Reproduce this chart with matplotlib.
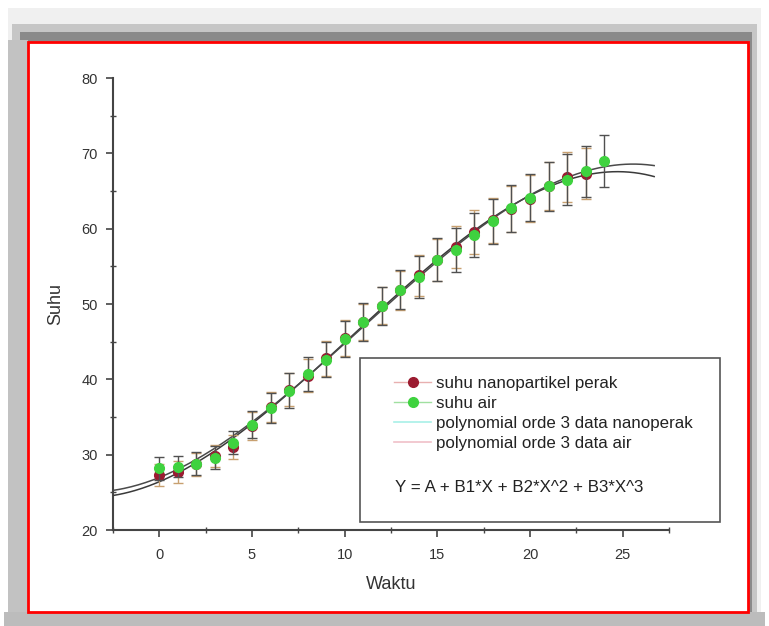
import numpy as np
import matplotlib
matplotlib.use("Agg")
import matplotlib.pyplot as plt
from matplotlib.patches import Rectangle
from matplotlib.lines import Line2D

plt.rcParams['font.family'] = ['Liberation Sans', 'DejaVu Sans']

# ---- data ----
waktu_air = list(range(0, 25))
suhu_air = [28.2, 28.4, 28.8, 29.6, 31.6, 34.0, 36.2, 38.5, 40.7, 42.6, 45.4, 47.6, 49.7,
            51.9, 53.6, 55.9, 57.2, 59.2, 61.0, 62.7, 64.1, 65.6, 66.5, 67.6, 69.0]
err_air = [1.5, 1.4, 1.5, 1.5, 1.5, 1.8, 2.0, 2.3, 2.2, 2.3, 2.4, 2.5, 2.5,
           2.6, 2.8, 2.8, 2.9, 2.9, 3.0, 3.1, 3.1, 3.2, 3.4, 3.4, 3.5]
waktu_nano = list(range(0, 24))
suhu_nano = [27.3, 27.7, 28.7, 29.8, 31.0, 33.8, 36.3, 38.6, 40.5, 42.8, 45.5, 47.6, 49.8,
             51.8, 53.8, 55.8, 57.6, 59.6, 61.1, 62.6, 64.0, 65.7, 66.9, 67.3]
err_nano = [1.4, 1.4, 1.5, 1.5, 1.6, 1.8, 2.0, 2.2, 2.2, 2.3, 2.4, 2.4, 2.5,
            2.6, 2.7, 2.8, 2.8, 2.9, 3.0, 3.0, 3.1, 3.2, 3.3, 3.4]
fit_range = [-2.5, 26.7]
legend_labels = ["suhu nanopartikel perak", "suhu air",
                 "polynomial orde 3 data nanoperak", "polynomial orde 3 data air"]
equation = "Y = A + B1*X + B2*X^2 + B3*X^3"
xticks = [0, 5, 10, 15, 20, 25]
yticks = [20, 30, 40, 50, 60, 70, 80]

W, H = 769, 626
fig = plt.figure(figsize=(W / 100, H / 100), dpi=100)
fig.patch.set_facecolor('white')

def frect(x0, y0, x1, y1, **kw):
    # pixel coords (top-left origin) -> figure fraction
    fig.patches.append(Rectangle((x0 / W, 1 - y1 / H), (x1 - x0) / W, (y1 - y0) / H,
                                 transform=fig.transFigure, figure=fig, zorder=-5, **kw))

# decorative frame / shadow
frect(8, 8, 761, 626, facecolor='#f0f0f0', edgecolor='none')
frect(12, 24, 757, 626, facecolor='#c6c6c6', edgecolor='none')
frect(20, 32, 752, 612, facecolor='#8a8a8a', edgecolor='none')
frect(4, 612, 765, 626, facecolor='#bcbcbc', edgecolor='none')
frect(8, 40, 28, 612, facecolor='#c2c2c2', edgecolor='none')
frect(28, 42, 748, 612, facecolor='white', edgecolor='#ff0000', linewidth=2)

# ---- axes ----
ax = fig.add_axes([113 / W, 1 - 530 / H, (669 - 113) / W, (530 - 78) / H])
ax.set_facecolor('none')
ax.set_xlim(-2.5, 27.5)
ax.set_ylim(20, 80)

xa = np.array(waktu_air, dtype=float)
xn = np.array(waktu_nano, dtype=float)
ya = np.array(suhu_air)
yn = np.array(suhu_nano)

xf = np.linspace(fit_range[0], fit_range[1], 300)
pn = np.polyfit(xn, yn, 3)
pa = np.polyfit(xa, ya, 3)
ax.plot(xf, np.polyval(pn, xf), color='#3a3a3a', lw=1.1, zorder=3)
ax.plot(xf, np.polyval(pa, xf), color='#4a4a4a', lw=1.1, zorder=3)

ax.errorbar(xn, yn, yerr=err_nano, fmt='o', color='#9b1b30', ms=7, ecolor='#c8a070',
            elinewidth=1, capsize=3.8, capthick=1, zorder=4)
ax.errorbar(xa, ya, yerr=err_air, fmt='o', color='#3fd23f', ms=7, ecolor='#505050',
            elinewidth=1, capsize=3.8, capthick=1, zorder=5)

for s in ['top', 'right']:
    ax.spines[s].set_visible(False)
for s in ['left', 'bottom']:
    ax.spines[s].set_color('#444444')
    ax.spines[s].set_linewidth(1.5)

ax.set_xticks(xticks)
ax.set_yticks(yticks)
ax.set_xticks(np.arange(-2.5, 27.6, 2.5), minor=True)
ax.set_yticks(np.arange(25, 80, 10), minor=True)
ax.tick_params(which='major', direction='out', length=5, width=1.2, color='#444444',
               labelsize=10.5, labelcolor='#333333', pad=6)
ax.tick_params(which='minor', direction='inout', length=4, width=1.0, color='#444444')
ax.tick_params(axis='x', which='major', pad=8)

ax.set_xlabel('Waktu', fontsize=13, color='#333333', labelpad=10)
ax.set_ylabel('Suhu', fontsize=13, color='#333333', labelpad=12)

# ---- legend ----
box = Rectangle(((360 - 113) / (669 - 113), (530 - 522) / (530 - 78)),
                (720 - 360) / (669 - 113), (522 - 358) / (530 - 78),
                transform=ax.transAxes, facecolor='white', edgecolor='#555555',
                linewidth=1.2, zorder=6, clip_on=False)
ax.add_patch(box)

handles = [
    Line2D([], [], color='#e8b0b0', lw=1, marker='o', markersize=7,
           markerfacecolor='#9b1b30', markeredgecolor='#9b1b30'),
    Line2D([], [], color='#a0e0a0', lw=1, marker='o', markersize=7,
           markerfacecolor='#3fd23f', markeredgecolor='#3fd23f'),
    Line2D([], [], color='#a8f0e8', lw=1.2),
    Line2D([], [], color='#f0c0c8', lw=1.2),
]
leg = ax.legend(handles, legend_labels, loc='upper left',
                bbox_to_anchor=((394 - 113) / (669 - 113), (530 - 376) / (530 - 78)),
                frameon=False, fontsize=12.2, handlelength=2.2, handletextpad=0.3,
                labelspacing=0.3, borderpad=0, borderaxespad=0)
leg.set_zorder(7)
for t in leg.get_texts():
    t.set_color('#222222')

ax.text((395 - 113) / (669 - 113), (530 - 487) / (530 - 78), equation,
        transform=ax.transAxes, fontsize=12.2, color='#222222', va='center', ha='left',
        zorder=8)

fig.savefig('out.png', dpi=100)
